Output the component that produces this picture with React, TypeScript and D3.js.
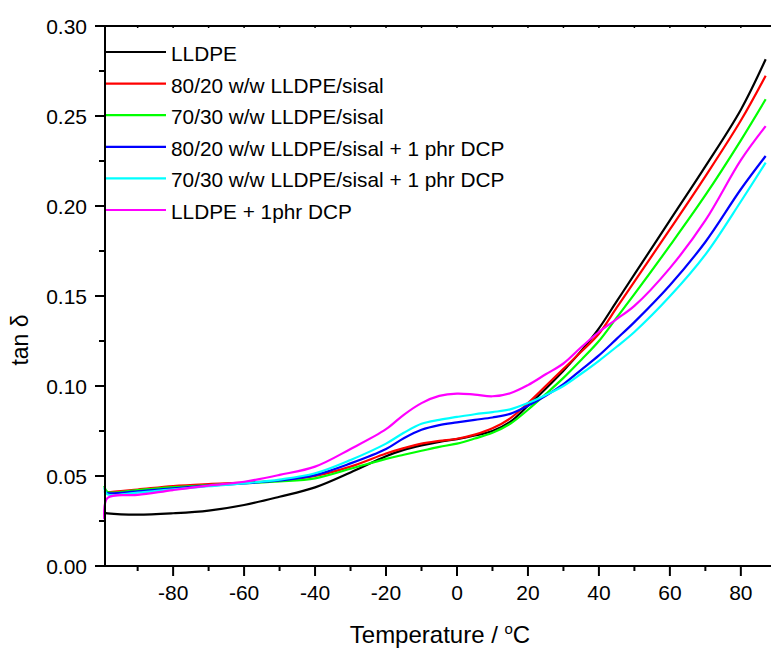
import React from 'react';
import * as d3 from 'd3';

// temperatures (°C) shared by all series
const temps = [-99.4, -98.5, -90, -80, -70, -60, -50, -40, -30, -20, -15, -10, -5, 0, 5, 10, 15, 20, 25, 30, 35, 40, 45, 50, 60, 70, 80, 87];

const lldpe = [0.0295, 0.0292, 0.0285, 0.0293, 0.0308, 0.0339, 0.0385, 0.0437, 0.0520, 0.0610, 0.0645, 0.0670, 0.0690, 0.0705, 0.0725, 0.0750, 0.0800, 0.0890, 0.0985, 0.1085, 0.1195, 0.1320, 0.1470, 0.1620, 0.1920, 0.2220, 0.2535, 0.2815];
const sisal80 = [0.0410, 0.0410, 0.0425, 0.0444, 0.0455, 0.0463, 0.0475, 0.0500, 0.0552, 0.0625, 0.0655, 0.0680, 0.0695, 0.0707, 0.0730, 0.0765, 0.0820, 0.0905, 0.1000, 0.1095, 0.1190, 0.1290, 0.1435, 0.1580, 0.1870, 0.2165, 0.2475, 0.2724];
const sisal70 = [0.0445, 0.0412, 0.0422, 0.0438, 0.0450, 0.0460, 0.0470, 0.0487, 0.0540, 0.0595, 0.0618, 0.0640, 0.0662, 0.0680, 0.0708, 0.0740, 0.0790, 0.0868, 0.0955, 0.1045, 0.1145, 0.1250, 0.1380, 0.1510, 0.1780, 0.2060, 0.2365, 0.2593];
const sisal80dcp = [0.0415, 0.0405, 0.0415, 0.0431, 0.0446, 0.0459, 0.0475, 0.0505, 0.0570, 0.0650, 0.0710, 0.0757, 0.0783, 0.0798, 0.0812, 0.0825, 0.0845, 0.0890, 0.0945, 0.1010, 0.1090, 0.1170, 0.1262, 0.1355, 0.1560, 0.1800, 0.2093, 0.2278];
const sisal70dcp = [0.0435, 0.0398, 0.0408, 0.0426, 0.0443, 0.0459, 0.0480, 0.0515, 0.0589, 0.0680, 0.0740, 0.0790, 0.0812, 0.0828, 0.0843, 0.0855, 0.0870, 0.0905, 0.0950, 0.1000, 0.1068, 0.1140, 0.1218, 0.1300, 0.1498, 0.1730, 0.2025, 0.2241];
const lldpeDcp = [0.0260, 0.0378, 0.0395, 0.0422, 0.0447, 0.0468, 0.0506, 0.0552, 0.0650, 0.0760, 0.0840, 0.0905, 0.0945, 0.0958, 0.0952, 0.0943, 0.0960, 0.1005, 0.1065, 0.1125, 0.1215, 0.1300, 0.1372, 0.1445, 0.1655, 0.1920, 0.2255, 0.2444];

const labels = ['LLDPE', '80/20 w/w LLDPE/sisal', '70/30 w/w LLDPE/sisal', '80/20 w/w LLDPE/sisal + 1 phr DCP', '70/30 w/w LLDPE/sisal + 1 phr DCP', 'LLDPE + 1phr DCP'];
const colors = ['#000000', '#ff0000', '#00ff00', '#0000ff', '#00ffff', '#ff00ff'];
const seriesValues = [lldpe, sisal80, sisal70, sisal80dcp, sisal70dcp, lldpeDcp];

const xMajor = [-80, -60, -40, -20, 0, 20, 40, 60, 80];
const xMinor = [-90, -70, -50, -30, -10, 10, 30, 50, 70];
const yMajor = [0, 0.05, 0.1, 0.15, 0.2, 0.25, 0.3];
const yMinor = [0.025, 0.075, 0.125, 0.175, 0.225, 0.275];

const font = '"Liberation Sans", Arial, sans-serif';

const App = () => {
  const width = 771, height = 650;
  const left = 105, top = 26, bottom = 566;
  const x = d3.scaleLinear().domain([-99.2, 88.5]).range([left, width]);
  const y = d3.scaleLinear().domain([0, 0.3]).range([bottom, top]);

  const line = d3.line<number>()
    .x((d, i) => x(temps[i]))
    .y(d => y(d))
    .curve(d3.curveCatmullRom.alpha(0.5));

  return (
    <svg width={width} height={height} style={{ position: 'absolute', left: 0, top: 0 }} fontFamily={font}>
      <rect width={width} height={height} fill="#fff" />
      {/* series */}
      {seriesValues.map((vals, i) => (
        <path key={i} d={line(vals) || ''} fill="none" stroke={colors[i]} strokeWidth={2.2} />
      ))}
      {/* frame */}
      <line x1={left} x2={width} y1={top} y2={top} stroke="#000" strokeWidth={2} />
      {[...xMajor, ...xMinor].map((t, i) => (
        <line key={'tt' + i} x1={x(t)} x2={x(t)} y1={top} y2={top + 2} stroke="#000" strokeWidth={1.5} />
      ))}
      <line x1={left} x2={left} y1={top - 1} y2={bottom + 1} stroke="#000" strokeWidth={2} />
      <line x1={left - 1} x2={width} y1={bottom} y2={bottom} stroke="#000" strokeWidth={2} />
      {/* x ticks */}
      {xMajor.map(t => (
        <g key={'xm' + t} transform={`translate(${x(t)},0)`}>
          <line y1={bottom} y2={bottom + 10} stroke="#000" strokeWidth={2} />
          <text y={bottom + 34} textAnchor="middle" fontSize={21} fill="#000">{t}</text>
        </g>
      ))}
      {xMinor.map(t => (
        <line key={'xn' + t} x1={x(t)} x2={x(t)} y1={bottom} y2={bottom + 5} stroke="#000" strokeWidth={2} />
      ))}
      {/* y ticks */}
      {yMajor.map(v => (
        <g key={'ym' + v} transform={`translate(0,${y(v)})`}>
          <line x1={left - 10} x2={left} stroke="#000" strokeWidth={2} />
          <text x={left - 18} dy="0.36em" textAnchor="end" fontSize={21} fill="#000">{v.toFixed(2)}</text>
        </g>
      ))}
      {yMinor.map(v => (
        <line key={'yn' + v} x1={left - 6} x2={left} y1={y(v)} y2={y(v)} stroke="#000" strokeWidth={2} />
      ))}
      {/* axis titles */}
      <text x={440} y={643} textAnchor="middle" fontSize={24} fill="#000">
        Temperature / <tspan fontSize={15} dy={-9}>o</tspan><tspan dy={9}>C</tspan>
      </text>
      <text transform="translate(28,340) rotate(-90)" textAnchor="middle" fontSize={23} fill="#000">tan δ</text>
      {/* legend */}
      {labels.map((lab, i) => {
        const ly = 52 + i * 31.6;
        return (
          <g key={'lg' + i}>
            <line x1={left + 1} x2={166} y1={ly} y2={ly} stroke={colors[i]} strokeWidth={2.2} />
            <text x={171} y={ly + 9} fontSize={20.8} fill="#000">{lab}</text>
          </g>
        );
      })}
    </svg>
  );
};

export default App;
